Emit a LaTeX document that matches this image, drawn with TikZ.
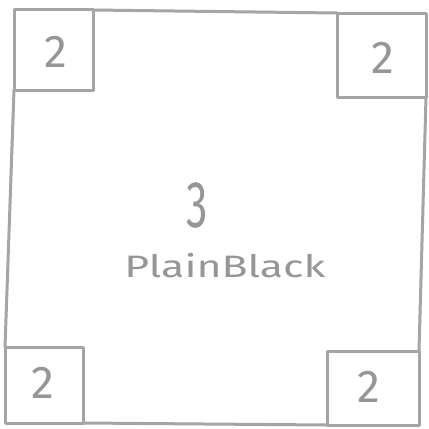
\documentclass[tikz,border=0pt]{standalone}
\usepackage{fontspec}
\setsansfont{Fira Sans}
\definecolor{pen}{RGB}{165,165,165}
\definecolor{ink}{RGB}{150,150,150}
\tikzset{
  sketch/.style={draw=pen, line width=3pt, line cap=round, line join=round},
  two/.style={text=ink, inner sep=0pt, font=\sffamily\fontsize{46}{46}\selectfont},
  big/.style={text=ink, inner sep=0pt, font=\sffamily\fontsize{66}{66}\selectfont},
  lbl/.style={text=ink, inner sep=0pt, font=\sffamily\fontsize{31}{31}\selectfont}
}
\begin{document}
\begin{tikzpicture}[x=1pt,y=-1pt]
\useasboundingbox (0,0) rectangle (429,429);
% corner boxes
\draw[sketch] (14,9) -- (93,9) -- (93,90) -- (14,90) -- cycle;
\draw[sketch] (337,13) -- (426,13) -- (426,97) -- (337,97) -- cycle;
\draw[sketch] (5,347) -- (83,347) -- (83,423) -- (5,423) -- cycle;
\draw[sketch] (327,351) -- (419,351) -- (419,425) -- (327,425) -- cycle;
% outer frame segments
\coordinate (t1) at (93,10);  \coordinate (t2) at (337,13);
\coordinate (l1) at (14,90); \coordinate (l2) at (5,347);
\coordinate (r1) at (426,97); \coordinate (r2) at (419,351);
\coordinate (b1) at (83,423); \coordinate (b2) at (327,425);
\draw[sketch] (t1) -- (t2);
\draw[sketch] (l1) -- (l2);
\draw[sketch] (r1) -- (r2);
\draw[sketch] (b1) -- (b2);
% labels
\node[two] (n1) at (56,52) {2};
\node[two] (n2) at (383,58) {2};
\node[two] (n3) at (43,383) {2};
\node[two] (n4) at (369,387) {2};
\node[big] (c3) at (197,205) {\scalebox{0.65}[1]{3}};
\node[lbl] (pb) at (225,266) {\scalebox{1.38}[1]{PlainBlack}};
\end{tikzpicture}
\end{document}
